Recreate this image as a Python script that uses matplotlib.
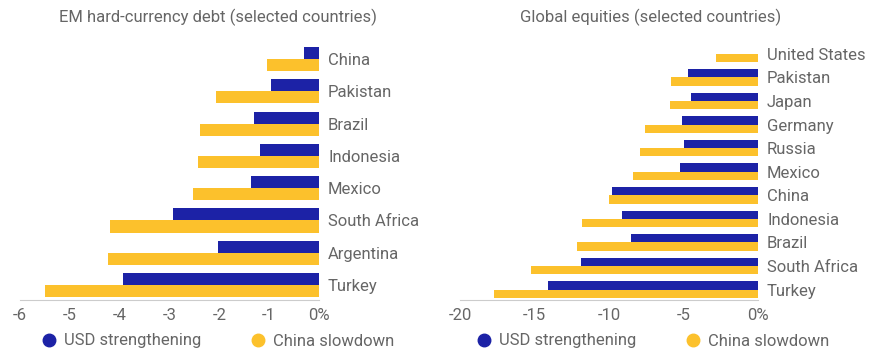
import matplotlib
matplotlib.use("Agg")
import matplotlib.pyplot as plt
from matplotlib.lines import Line2D

plt.rcParams['font.family'] = ['Roboto', 'DejaVu Sans']

BLUE = "#1c22a6"
YELLOW = "#fcc12c"
GREY = "#666666"

# EM hard-currency debt, top to bottom
debt_countries = ["China", "Pakistan", "Brazil", "Indonesia", "Mexico",
                  "South Africa", "Argentina", "Turkey"]
debt_usd = [-0.30, -0.97, -1.30, -1.19, -1.37, -2.93, -2.02, -3.93]
debt_china = [-1.05, -2.07, -2.39, -2.42, -2.52, -4.19, -4.23, -5.50]
debt_ticks = [-6, -5, -4, -3, -2, -1, 0]

# Global equities, top to bottom
eq_countries = ["United States", "Pakistan", "Japan", "Germany", "Russia",
                "Mexico", "China", "Indonesia", "Brazil", "South Africa", "Turkey"]
eq_usd = [0.0, -4.69, -4.49, -5.09, -4.94, -5.21, -9.77, -9.14, -8.49, -11.89, -14.08]
eq_china = [-2.84, -5.81, -5.92, -7.60, -7.93, -8.38, -9.99, -11.80, -12.16, -15.22, -17.72]
eq_ticks = [-20, -15, -10, -5, 0]

W, H = 870, 359
fig = plt.figure(figsize=(W / 100, H / 100), dpi=100)


def panel(rect, countries, usd, china, ticks, bar_h, top, bottom, title, title_x, leg_x):
    ax = fig.add_axes(rect)
    n = len(countries)
    ys = [n - 1 - i for i in range(n)]
    ax.barh([y + bar_h / 2 for y in ys], usd, height=bar_h, color=BLUE)
    ax.barh([y - bar_h / 2 for y in ys], china, height=bar_h, color=YELLOW)
    ax.set_xlim(ticks[0], 0)
    ax.set_ylim(bottom, top)
    ax.set_xticks(ticks)
    ax.set_xticklabels([f"{t}%" if t == 0 else str(t) for t in ticks])
    ax.set_yticks(ys)
    ax.set_yticklabels(countries)
    ax.yaxis.tick_right()
    ax.tick_params(axis="y", length=0, pad=6.5, labelsize=12, labelcolor=GREY)
    ax.tick_params(axis="x", length=0, pad=5.5, labelsize=12, labelcolor=GREY)
    for s in ["top", "left", "right"]:
        ax.spines[s].set_visible(False)
    ax.spines["bottom"].set_color("#cccccc")
    ax.set_facecolor("none")
    fig.text(title_x, 1 - 17 / H, title, ha="center", va="center",
             fontsize=12, color=GREY)
    handles = [Line2D([], [], marker="o", ls="none", color=BLUE, markersize=9),
               Line2D([], [], marker="o", ls="none", color=YELLOW, markersize=9)]
    fig.legend(handles, ["USD strengthening", "China slowdown"], ncol=2,
               loc="center left", bbox_to_anchor=(leg_x, 1 - 341 / H),
               frameon=False, fontsize=12, labelcolor=GREY,
               handletextpad=0.4, columnspacing=2.9, handlelength=1.0,
               borderaxespad=0, borderpad=0)
    return ax


panel([20 / W, (H - 300) / H, 299 / W, 257 / H], debt_countries, debt_usd,
      debt_china, debt_ticks, 0.375, 7.5, -0.465,
      "EM hard-currency debt (selected countries)", 218 / W, 41 / W)
panel([460 / W, (H - 300) / H, 298 / W, 258 / H], eq_countries, eq_usd,
      eq_china, eq_ticks, 0.35, 10.5, -0.44,
      "Global equities (selected countries)", 651 / W, 476 / W)

fig.savefig("out.png", dpi=100)
